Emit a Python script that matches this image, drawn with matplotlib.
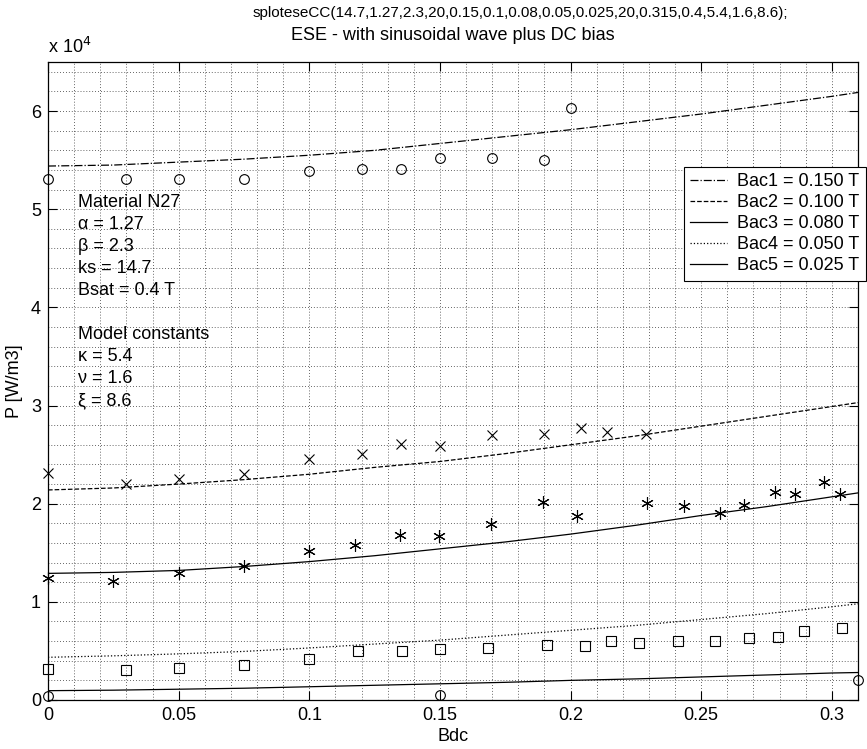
import matplotlib
matplotlib.use("Agg")
import matplotlib.pyplot as plt
from matplotlib.ticker import MultipleLocator

plt.rcParams["font.family"] = ["Liberation Sans", "DejaVu Sans"]

# ---------- Measured points (P in units of 1e4 W/m3) ----------
bdc_1 = [0, 0.03, 0.05, 0.075, 0.1, 0.12, 0.135, 0.15, 0.17, 0.19, 0.2]
p_1 = [5.31, 5.31, 5.31, 5.31, 5.39, 5.41, 5.41, 5.52, 5.52, 5.50, 6.03]

bdc_2 = [0, 0.03, 0.05, 0.075, 0.1, 0.12, 0.135, 0.15, 0.17, 0.19, 0.204, 0.214, 0.229]
p_2 = [2.31, 2.20, 2.25, 2.30, 2.46, 2.51, 2.61, 2.585, 2.70, 2.71, 2.77, 2.73, 2.71]

bdc_3 = [0, 0.025, 0.05, 0.075, 0.1, 0.1174, 0.1346, 0.1495, 0.1695, 0.1893,
         0.2026, 0.2293, 0.2433, 0.2573, 0.2662, 0.2782, 0.2859, 0.2971, 0.3032]
p_3 = [1.242, 1.217, 1.293, 1.37, 1.52, 1.58, 1.677, 1.667, 1.79, 2.02,
       1.87, 2.007, 1.98, 1.91, 1.99, 2.115, 2.099, 2.217, 2.10]

bdc_4 = [0, 0.03, 0.05, 0.075, 0.1, 0.1185, 0.1355, 0.15, 0.1685, 0.191,
         0.2057, 0.2154, 0.2262, 0.2411, 0.2551, 0.2682, 0.2793, 0.2892, 0.304]
p_4 = [0.312, 0.305, 0.322, 0.36, 0.414, 0.50, 0.50, 0.52, 0.525, 0.556,
       0.553, 0.605, 0.578, 0.605, 0.605, 0.63, 0.64, 0.704, 0.73]

bdc_5 = [0, 0.15, 0.31]
p_5 = [0.04, 0.05, 0.204]

# ---------- Model curves ----------
bdc_model = [0, 0.025, 0.05, 0.075, 0.1, 0.125, 0.15, 0.175, 0.2, 0.225,
             0.25, 0.275, 0.3, 0.31]
m_1 = [5.44, 5.45, 5.48, 5.51, 5.55, 5.60, 5.67, 5.74, 5.81, 5.89, 5.97, 6.06, 6.15, 6.19]
m_2 = [2.14, 2.16, 2.20, 2.245, 2.30, 2.37, 2.43, 2.51, 2.60, 2.69, 2.79, 2.89, 2.99, 3.03]
m_3 = [1.29, 1.30, 1.32, 1.36, 1.41, 1.47, 1.54, 1.61, 1.69, 1.78, 1.88, 1.97, 2.07, 2.11]
m_4 = [0.435, 0.45, 0.47, 0.495, 0.53, 0.57, 0.61, 0.66, 0.71, 0.76, 0.82, 0.88, 0.95, 0.98]
m_5 = [0.095, 0.10, 0.11, 0.12, 0.135, 0.15, 0.165, 0.18, 0.20, 0.215, 0.235, 0.255, 0.275, 0.28]

legend_labels = ["Bac1 = 0.150 T", "Bac2 = 0.100 T", "Bac3 = 0.080 T",
                 "Bac4 = 0.050 T", "Bac5 = 0.025 T"]

info_lines = ["Material N27", "α = 1.27", "β = 2.3", "ks = 14.7",
              "Bsat = 0.4 T", "", "Model constants", "κ = 5.4",
              "ν = 1.6", "ξ = 8.6"]

FS = 13
W, H = 867, 749
fig = plt.figure(figsize=(W / 100, H / 100), dpi=100)
ax = fig.add_axes([48 / W, 1 - 700 / H, (858 - 48) / W, (700 - 62) / H])

# model curves (these make the legend)
lw = 0.9
ax.plot(bdc_model, m_1, "k-.", lw=lw, label=legend_labels[0])
ax.plot(bdc_model, m_2, "k--", lw=lw, label=legend_labels[1])
ax.plot(bdc_model, m_3, "k-", lw=lw, label=legend_labels[2])
ax.plot(bdc_model, m_4, "k:", lw=lw, label=legend_labels[3])
ax.plot(bdc_model, m_5, "k-", lw=lw, label=legend_labels[4])

# measurements
mk = dict(ls="none", color="k", mfc="none", mew=0.8, clip_on=False)
ax.plot(bdc_1, p_1, marker="o", ms=7, **mk)
ax.plot(bdc_2, p_2, marker="x", ms=7, **mk)
ax.plot(bdc_3, p_3, marker=(6, 2, 0), ms=9, **mk)
ax.plot(bdc_4, p_4, marker="s", ms=7, **mk)
ax.plot(bdc_5, p_5, marker="o", ms=7, **mk)

ax.set_xlim(0, 0.31)
ax.set_ylim(0, 6.5)
ax.xaxis.set_minor_locator(MultipleLocator(0.01))
ax.yaxis.set_minor_locator(MultipleLocator(0.2))
ax.set_xticks([0, 0.05, 0.1, 0.15, 0.2, 0.25, 0.3])
ax.set_xticklabels(["0", "0.05", "0.1", "0.15", "0.2", "0.25", "0.3"])
ax.set_yticks([0, 1, 2, 3, 4, 5, 6])
ax.set_yticklabels(["0", "1", "2", "3", "4", "5", "6"])
ax.grid(which="both", linestyle=(0, (1, 2.5)), color="k", linewidth=0.6, alpha=0.8)
ax.tick_params(which="major", direction="in", length=6.5, width=0.8,
               top=True, right=True, labelsize=FS, pad=5)
ax.tick_params(which="minor", length=0, top=True, right=True)
for s in ax.spines.values():
    s.set_linewidth(0.9)

ax.set_xlabel("Bdc", fontsize=FS, labelpad=3)
ax.set_ylabel("P [W/m3]", fontsize=FS, labelpad=6)

# material / model constants block
for i, line in enumerate(info_lines):
    if line:
        ax.text(0.0113, 5.07 - i * 0.2245, line, fontsize=FS, va="center", ha="left")

fig.text(48 / W, 1 - 47 / H, r"x 10$^4$", fontsize=FS, ha="left", va="center")
fig.text(520 / W, 1 - 13 / H,
         "sploteseCC(14.7,1.27,2.3,20,0.15,0.1,0.08,0.05,0.025,20,0.315,0.4,5.4,1.6,8.6);",
         fontsize=11, ha="center", va="center")
fig.text(453 / W, 1 - 36 / H, "ESE - with sinusoidal wave plus DC bias",
         fontsize=FS, ha="center", va="center")

leg = ax.legend(loc="upper right", bbox_to_anchor=(866 / W, 1 - 167 / H),
                bbox_transform=fig.transFigure, fontsize=FS, frameon=True,
                fancybox=False, framealpha=1, edgecolor="k", handlelength=2.0,
                labelspacing=0.22, borderpad=0.35, handletextpad=0.6,
                borderaxespad=0)
leg.get_frame().set_linewidth(0.8)

fig.savefig("out.png", dpi=100)
